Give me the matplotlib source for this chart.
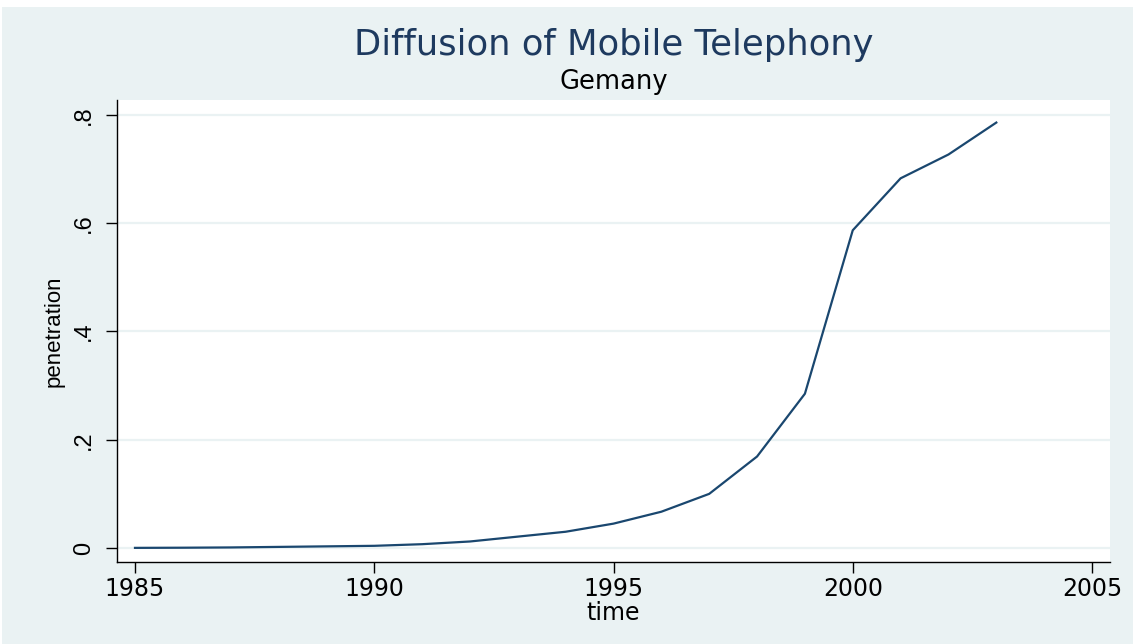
import matplotlib.pyplot as plt
from matplotlib.patches import Rectangle

# --- Data ---
years = [1985, 1986, 1987, 1988, 1989, 1990, 1991, 1992, 1993, 1994,
         1995, 1996, 1997, 1998, 1999, 2000, 2001, 2002, 2003]
penetration = [0.0002, 0.0005, 0.001, 0.002, 0.003, 0.004, 0.007, 0.012, 0.021, 0.030,
               0.045, 0.067, 0.100, 0.169, 0.285, 0.587, 0.683, 0.727, 0.786]
xticks = [1985, 1990, 1995, 2000, 2005]
yticks = [0, 0.2, 0.4, 0.6, 0.8]
ytick_labels = ["0", ".2", ".4", ".6", ".8"]

# --- Style ---
BG = "#EAF2F3"
LINE = "#1A476F"
TITLE = "#1E3A5F"
W, H = 1133, 644
WIDE = ['DejaVu Sans']                  # horizontal text looks stretched in the reference
NARROW = ['Liberation Sans', 'DejaVu Sans']  # rotated text

fig = plt.figure(figsize=(W / 100, H / 100), dpi=100, facecolor="white")
# graph region background (white strip left on top, as in reference)
fig.patches.append(Rectangle((2 / W, 0), 1 - 2 / W, 1 - 7 / H, transform=fig.transFigure,
                             facecolor=BG, edgecolor="none", zorder=-10))

ax = fig.add_axes([117 / W, 1 - 562 / H, (1110 - 117) / W, (562 - 100) / H])
ax.set_facecolor("white")

ax.plot(years, penetration, color=LINE, lw=1.6, zorder=3)

ax.set_xlim(1984.624, 2005.376)
ax.set_ylim(-0.0259, 0.8277)
ax.set_xticks(xticks)
ax.set_xticklabels([str(t) for t in xticks], family=WIDE, fontsize=17)
ax.set_yticks(yticks)
ax.set_yticklabels(ytick_labels, rotation=90, va="center", family=NARROW, fontsize=17)

for y in yticks:
    ax.axhline(y, color=BG, lw=1.6, zorder=1)

for side in ["top", "right"]:
    ax.spines[side].set_visible(False)
for side in ["left", "bottom"]:
    ax.spines[side].set_color("black")
    ax.spines[side].set_linewidth(1.0)

ax.tick_params(axis="both", direction="out", length=8, width=1, colors="black")
ax.tick_params(axis="x", pad=3)
ax.tick_params(axis="y", pad=8)

ax.set_xlabel("time", family=WIDE, fontsize=17, labelpad=0)
ax.set_ylabel("penetration", family=NARROW, fontsize=16, labelpad=6)

fig.text(614 / W, 1 - 45 / H, "Diffusion of Mobile Telephony", ha="center", va="center",
         family=WIDE, fontsize=25.5, color=TITLE)
fig.text(614 / W, 1 - 82 / H, "Gemany", ha="center", va="center",
         family=WIDE, fontsize=18.5, color="black")

fig.savefig("out.png", dpi=100, facecolor=fig.get_facecolor())
